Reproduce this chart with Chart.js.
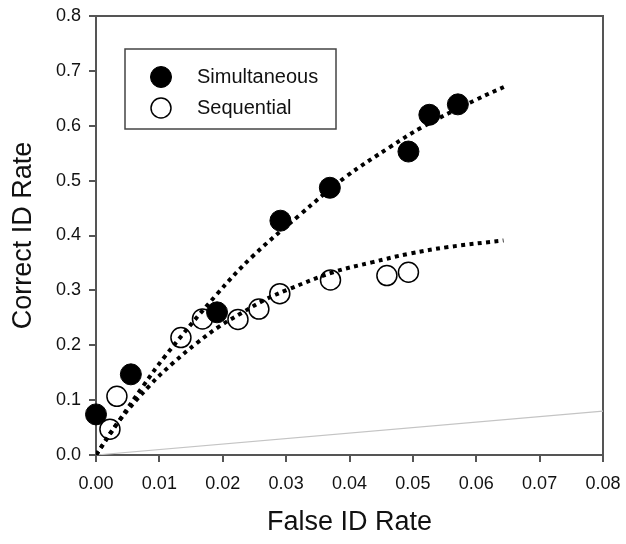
<!DOCTYPE html>
<html><head><meta charset="utf-8">
<script src="https://cdn.jsdelivr.net/npm/chart.js@4/dist/chart.umd.min.js"></script>
<style>html,body{margin:0;padding:0;background:#fff}</style>
</head><body>
<canvas id="c" width="626" height="544"></canvas>
<script>
// ---- data ----
const simultaneousFalseID   = [0.0000, 0.0055, 0.0191, 0.0291, 0.0369, 0.0493, 0.0526, 0.0571];
const simultaneousCorrectID = [0.074, 0.147, 0.260, 0.427, 0.487, 0.553, 0.620, 0.639];

const sequentialFalseID   = [0.0022, 0.0033, 0.0134, 0.0168, 0.0224, 0.0257, 0.0290, 0.0370, 0.0459, 0.0493];
const sequentialCorrectID = [0.047, 0.107, 0.214, 0.248, 0.247, 0.266, 0.294, 0.319, 0.327, 0.333];

const simultaneousFitX = [0, 0.0035, 0.0074, 0.0109, 0.0190, 0.0248, 0.0322, 0.0393, 0.0465, 0.0514, 0.0599, 0.0650];
const simultaneousFitY = [0, 0.060, 0.125, 0.180, 0.292, 0.363, 0.438, 0.506, 0.562, 0.597, 0.647, 0.674];

const sequentialFitX = [0, 0.0035, 0.0085, 0.0122, 0.0158, 0.0193, 0.0230, 0.0265, 0.0302, 0.0374, 0.0435, 0.0495, 0.0556, 0.0643];
const sequentialFitY = [0, 0.060, 0.127, 0.168, 0.203, 0.233, 0.259, 0.282, 0.301, 0.333, 0.351, 0.367, 0.379, 0.391];

const chanceX = [0, 0.08];
const chanceY = [0, 0.08];

const xTicks = [0, 0.01, 0.02, 0.03, 0.04, 0.05, 0.06, 0.07, 0.08];
const xTickLabels = ['0.00','0.01','0.02','0.03','0.04','0.05','0.06','0.07','0.08'];
const yTicks = [0, 0.1, 0.2, 0.3, 0.4, 0.5, 0.6, 0.7, 0.8];
const yTickLabels = ['0.0','0.1','0.2','0.3','0.4','0.5','0.6','0.7','0.8'];

const xTitle = 'False ID Rate';
const yTitle = 'Correct ID Rate';
// --------------------------------------

const FONT = '"Liberation Sans", Arial, Helvetica, sans-serif';
const pts = (xs, ys) => xs.map((x, i) => ({x, y: ys[i]}));

const framePlugin = {
  id: 'frame',
  beforeDatasetsDraw(chart) {
    const {ctx, chartArea: a} = chart;
    ctx.save();
    ctx.strokeStyle = '#555';
    ctx.lineWidth = 2;
    ctx.strokeRect(a.left, a.top, a.right - a.left, a.bottom - a.top);
    ctx.restore();
  }
};

const boxLegendPlugin = {
  id: 'boxLegend',
  afterDraw(chart) {
    const {ctx, chartArea: a} = chart;
    const items = chart.data.datasets.filter(d => d.inLegend);
    const x = a.left + 29, y = a.top + 33, w = 211, h = 80;
    ctx.save();
    ctx.fillStyle = '#fff';
    ctx.fillRect(x, y, w, h);
    ctx.strokeStyle = '#444';
    ctx.lineWidth = 1.5;
    ctx.strokeRect(x, y, w, h);
    items.forEach((d, i) => {
      const cy = y + 28 + i * 31, cx = x + 36;
      ctx.beginPath();
      ctx.arc(cx, cy, d.pointRadius, 0, Math.PI * 2);
      ctx.fillStyle = d.pointBackgroundColor;
      ctx.fill();
      ctx.lineWidth = d.pointBorderWidth;
      ctx.strokeStyle = d.pointBorderColor;
      ctx.stroke();
      ctx.fillStyle = '#111';
      ctx.font = '20px ' + FONT;
      ctx.textAlign = 'left';
      ctx.textBaseline = 'middle';
      ctx.fillText(d.label, x + 72, cy);
    });
    ctx.restore();
  }
};

new Chart(document.getElementById('c'), {
  type: 'scatter',
  data: {
    datasets: [
      {
        label: 'Simultaneous fit', data: pts(simultaneousFitX, simultaneousFitY),
        showLine: true, borderColor: '#000', borderWidth: 4, borderDash: [4, 4.4],
        borderCapStyle: 'butt', pointRadius: 0, tension: 0.4, order: 0
      },
      {
        label: 'Sequential fit', data: pts(sequentialFitX, sequentialFitY),
        showLine: true, borderColor: '#000', borderWidth: 4, borderDash: [4, 4.4],
        borderCapStyle: 'butt', pointRadius: 0, tension: 0.4, order: 0
      },
      {
        label: 'Simultaneous', inLegend: true, data: pts(simultaneousFalseID, simultaneousCorrectID),
        showLine: false, pointRadius: 10.5, pointBackgroundColor: '#000',
        pointBorderColor: '#000', pointBorderWidth: 1, clip: false, order: 1
      },
      {
        label: 'Sequential', inLegend: true, data: pts(sequentialFalseID, sequentialCorrectID),
        showLine: false, pointRadius: 10, pointBackgroundColor: '#fff',
        pointBorderColor: '#000', pointBorderWidth: 1.5, clip: false, order: 2
      },
      {
        label: 'Chance', data: pts(chanceX, chanceY),
        showLine: true, borderColor: '#c4c4c4', borderWidth: 1.2, pointRadius: 0, order: 3
      }
    ]
  },
  options: {
    responsive: false,
    animation: false,
    devicePixelRatio: 1,
    layout: {padding: {top: 16, right: 23, left: 0, bottom: 0}},
    plugins: {legend: {display: false}, tooltip: {enabled: false}},
    scales: {
      x: {
        type: 'linear', min: 0, max: 0.08,
        afterBuildTicks: s => { s.ticks = xTicks.map(v => ({value: v})); },
        afterFit: s => { s.height = 89; s.paddingLeft = 0; s.paddingRight = 0; },
        ticks: {
          callback: (v, i) => xTickLabels[i], autoSkip: false, maxRotation: 0,
          font: {size: 18, family: FONT}, color: '#111', padding: 11
        },
        grid: {drawOnChartArea: false, drawTicks: true, tickLength: 7, color: '#555', lineWidth: 2},
        border: {display: true, color: '#555', width: 2},
        title: {display: true, text: xTitle, font: {size: 27, family: FONT}, color: '#111', padding: {top: 0, bottom: 5}}
      },
      y: {
        type: 'linear', min: 0, max: 0.8,
        afterBuildTicks: s => { s.ticks = yTicks.map(v => ({value: v})); },
        afterFit: s => { s.width = 96; s.paddingTop = 0; s.paddingBottom = 0; },
        ticks: {
          callback: (v, i) => yTickLabels[i], autoSkip: false,
          font: {size: 18, family: FONT}, color: '#111', padding: 8
        },
        grid: {drawOnChartArea: false, drawTicks: true, tickLength: 7, color: '#555', lineWidth: 2},
        border: {display: true, color: '#555', width: 2},
        title: {display: true, text: yTitle, font: {size: 27, family: FONT}, color: '#111', padding: {top: 7, bottom: 0}}
      }
    }
  },
  plugins: [framePlugin, boxLegendPlugin]
});
</script>
</body></html>
